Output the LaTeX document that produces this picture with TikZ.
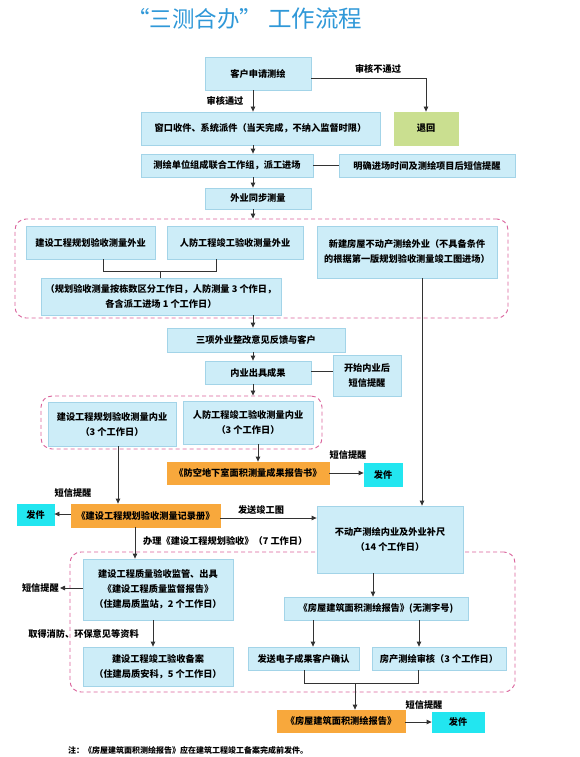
\documentclass[tikz,border=0pt]{standalone}
\usepackage{fontspec}
\setmainfont{Noto Sans CJK SC}
\usetikzlibrary{arrows.meta,calc}
\definecolor{boxfill}{HTML}{CDEDF8}
\definecolor{boxline}{HTML}{A3D4E8}
\definecolor{orangefill}{HTML}{F8A83C}
\definecolor{cyanfill}{HTML}{22E6F0}
\definecolor{greenfill}{HTML}{CADF90}
\definecolor{dashpink}{HTML}{D9619A}
\definecolor{titleblue}{HTML}{2F98D8}
\definecolor{linegray}{HTML}{333333}
\tikzset{
  box/.style={draw=boxline, fill=boxfill, line width=0.8pt, inner sep=0pt, align=center,
    font=\fontsize{9.2}{15}\selectfont\bfseries},
  obox/.style={box, draw=orangefill, fill=orangefill},
  cbox/.style={box, draw=cyanfill, fill=cyanfill},
  gbox/.style={box, draw=greenfill, fill=greenfill},
  dreg/.style={draw=dashpink, dash pattern=on 4pt off 3pt, line width=0.9pt, rounded corners=11pt, inner sep=0pt},
  arr/.style={draw=linegray, line width=0.8pt, -{Triangle[length=5pt,width=4.5pt]}},
  conn/.style={draw=linegray, line width=0.8pt},
  lbl/.style={font=\fontsize{9.2}{11}\selectfont\bfseries, inner sep=1pt},
}
\newcommand\bx[7]{\node[#6, minimum width={(#4-#2)*1pt}, minimum height={(#5-#3)*1pt}] (#1) at ({(#2+#4)/2},{(#3+#5)/2}) {#7};}
\begin{document}
\begin{tikzpicture}[x=1pt,y=-1pt]
\useasboundingbox (0,0) rectangle (580,757);
% title
\node[font=\fontsize{22.5}{26}\selectfont, text=titleblue, inner sep=0pt, anchor=west] (title) at (127,19) {“三测合办”\hspace{6pt}{\fontsize{23.5}{26}\selectfont 工作流程}};
% dashed regions
\bx{dA}{15}{219}{508}{318}{dreg}{}
\bx{dB}{41}{396}{322}{449}{dreg}{}
\bx{dC}{70}{552}{515}{692}{dreg}{}
% boxes
\bx{req}{205}{57}{311}{90}{box}{客户申请测绘}
\bx{back}{394}{112}{458}{145}{gbox}{退回}
\bx{win}{141}{112}{380}{145}{box}{窗口收件、系统派件（当天完成，不纳入监督时限）}
\bx{team}{141}{154}{313}{177}{box}{测绘单位组成联合工作组，派工进场}
\bx{rem1}{339}{154}{515}{177}{box}{明确进场时间及测绘项目后短信提醒}
\bx{field}{205}{188}{311}{209}{box}{外业同步测量}
\bx{fa}{26}{226}{155}{259}{box}{建设工程规划验收测量外业}
\bx{fb}{167}{226}{303}{259}{box}{人防工程竣工验收测量外业}
\bx{fc}{317}{226}{497}{278}{box}{新建房屋不动产测绘外业（不具备条件\\的根据第一版规划验收测量竣工图进场）}
\bx{fd}{41}{278}{281}{315}{box}{（规划验收测量按栋数区分工作日，人防测量 3 个作日，\\各含派工进场 1 个工作日）}
\bx{fix}{167}{328}{345}{352}{box}{三项外业整改意见反馈与客户}
\bx{out}{205}{361}{311}{384}{box}{内业出具成果}
\bx{rem2}{333}{355}{401}{396}{box}{开始内业后\\短信提醒}
\bx{ia}{48}{402}{176}{446}{box}{建设工程规划验收测量内业\\（3 个工作日）}
\bx{ib}{183}{401}{313}{444}{box}{人防工程竣工验收测量内业\\（3 个工作日）}
\bx{orA}{167}{462}{329}{484}{obox}{《防空地下室面积测量成果报告书》}
\bx{cyA}{364}{463}{402}{486}{cbox}{发件}
\bx{orB}{71}{504}{220}{527}{obox}{《建设工程规划验收测量记录册》}
\bx{cyB}{17}{504}{54}{525}{cbox}{发件}
\bx{prop}{317}{506}{463}{573}{box}{不动产测绘内业及外业补尺\\（14 个工作日）}
\bx{qa}{83}{559}{233}{620}{box}{建设工程质量验收监管、出具\\《建设工程质量监督报告》\\（住建局质监站，2 个工作日）}
\bx{qb}{83}{647}{233}{686}{box}{建设工程竣工验收备案\\（住建局质安科，5 个工作日）}
\bx{rep}{284}{597}{468}{620}{box}{《房屋建筑面积测绘报告》(无测字号)}
\bx{send}{248}{647}{359}{670}{box}{发送电子成果客户确认}
\bx{audit}{372}{647}{506}{670}{box}{房产测绘审核（3 个工作日）}
\bx{orC}{277}{710}{405}{732}{obox}{《房屋建筑面积测绘报告》}
\bx{cyC}{432}{712}{484}{732}{cbox}{发件}
% labels
\node[lbl] (l1) at (378,69) {审核不通过};
\node[lbl] (l2) at (225,101) {审核通过};
\node[lbl] (l3) at (348,455) {短信提醒};
\node[lbl] (l4) at (73,493) {短信提醒};
\node[lbl] (l5) at (261,510) {发送竣工图};
\node[lbl, anchor=west] (l6) at (142,541) {办理《建设工程规划验收》（7 工作日）};
\node[lbl, anchor=east] (sms3) at (60,588) {短信提醒};
\node[lbl] (l7) at (83.5,634) {取得消防、环保意见等资料};
\node[lbl] (l8) at (424,705) {短信提醒};
\node[font=\fontsize{8}{9}\selectfont\bfseries, anchor=west, inner sep=0pt] (note) at (68,750) {注：《房屋建筑面积测绘报告》应在建筑工程竣工备案完成前发件。};
% connectors
\draw[arr] (req.south -| 253,0) -- (win.north -| 253,0);
\draw[arr] (req.east |- 0,78) -| (back.north);
\draw[arr] (win.south -| 253,0) -- (team.north -| 253,0);
\draw[conn] (team.east) -- (rem1.west);
\draw[arr] (team.south -| 253,0) -- (field.north -| 253,0);
\draw[arr] (field.south -| 253,0) -- (dA.north -| 253,0);
\draw[conn] (fa.south -| 103,0) -- (103,271) -- (216,271) -- (fb.south -| 216,0);
\draw[conn] (160,271) -- (fd.north -| 160,0);
\draw[arr] (fd.south -| 253,0) -- (fix.north -| 253,0);
\draw[arr] (fc.south -| 422,0) -- (prop.north -| 422,0);
\draw[arr] (fix.south -| 253,0) -- (out.north -| 253,0);
\draw[conn] (out.east |- 0,371) -- (rem2.west |- 0,371);
\draw[arr] (out.south -| 253,0) -- (dB.north -| 253,0);
\draw[arr] (ib.south -| 258,0) -- (orA.north -| 258,0);
\draw[arr] (orA.east |- 0,473) -- (cyA.west |- 0,473);
\draw[arr] (ia.south -| 118,0) -- (orB.north -| 118,0);
\draw[arr] (orB.west |- 0,514) -- (cyB.east |- 0,514);
\draw[arr] (orB.east |- 0,518) -- (prop.west |- 0,518);
\draw[arr] (orB.south -| 135,0) -- (qa.north -| 135,0);
\draw[arr] (qa.west |- 0,588) -- (sms3.east);
\draw[arr] (qa.south -| 153,0) -- (qb.north -| 153,0);
\draw[arr] (prop.south -| 373,0) -- (rep.north -| 373,0);
\draw[arr] (rep.south -| 313,0) -- (send.north -| 313,0);
\draw[arr] (rep.south -| 419,0) -- (audit.north -| 419,0);
\draw[conn] (send.south -| 304,0) -- (304,683) -- (418,683) -- (audit.south -| 418,0);
\draw[arr] (355,683) -- (orC.north -| 355,0);
\draw[arr] (orC.east |- 0,722) -- (cyC.west |- 0,722);
\end{tikzpicture}
\end{document}
